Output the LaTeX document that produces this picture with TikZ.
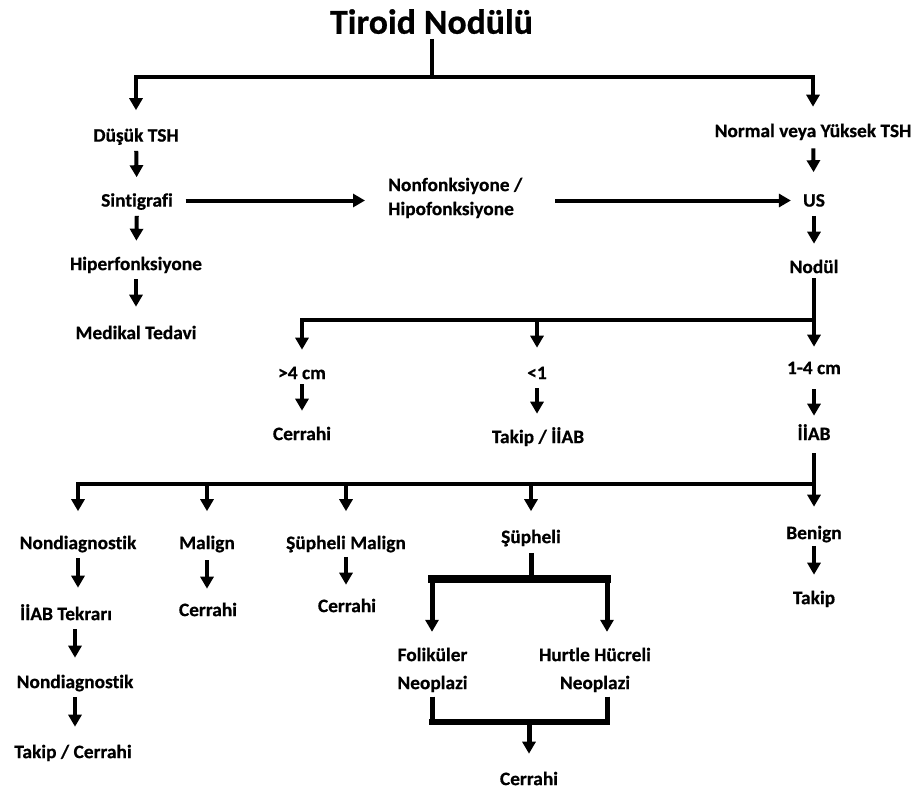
\documentclass[tikz,border=0pt]{standalone}
\usepackage{fontspec}
\setmainfont{Carlito}[Ligatures=NoCommon, FakeStretch=1.02, FakeBold=0.6]
\usetikzlibrary{arrows.meta}
\begin{document}
\begin{tikzpicture}[x=1pt,y=-1pt,
  lbl/.style={font=\bfseries\fontsize{19}{24}\selectfont, inner sep=0pt, text height=12.2pt, text depth=0pt},
  lbltwo/.style={font=\bfseries\fontsize{19}{24}\selectfont, inner sep=0pt},
  ttl/.style={font=\bfseries\fontsize{35}{40}\selectfont, inner sep=0pt, text height=22.5pt, text depth=0pt},
  ln/.style={line width=4pt},
  arr/.style={line width=4pt, -{Triangle[width=13pt,length=12pt]}},
  va/.style={arr, shorten <=9pt, shorten >=17pt},
  thickbar/.style={line width=7.5pt, line cap=rect},
  thinbar/.style={line width=6pt, line cap=rect}
]
\fill[white] (0,0) rectangle (918,793);
\useasboundingbox (0,0) rectangle (918,793);

% nodes
\node[ttl] (title) at (431.5,22.5) {Tiroid Nodülü};
\node[lbl] (dusuk) at (136,135.5) {Düşük TSH};
\node[lbl] (normal) at (813,131) {Normal veya Yüksek TSH};
\node[lbl] (sinti) at (137,200.5) {Sintigrafi};
\node[lbltwo, anchor=west] (nonf) at (388,198.3) {\begin{tabular}{@{}l@{}}Nonfonksiyone /\\Hipofonksiyone\end{tabular}};
\node[lbl] (us) at (814,200.5) {US};
\node[lbl] (hiper) at (136,264) {Hiperfonksiyone};
\node[lbl] (medikal) at (136,333) {Medikal Tedavi};
\node[lbl] (nodul) at (814,267) {Nodül};
\node[lbl] (gt4) at (302,373) {>4 cm};
\node[lbl] (lt1) at (537,373) {<1};
\node[lbl] (b14) at (814,368) {1-4 cm};
\node[lbl] (cer1) at (302,434) {Cerrahi};
\node[lbl] (takipiiab) at (538,437) {Takip / İİAB};
\node[lbl] (iiab) at (814,434) {İİAB};
\node[lbl] (nd1) at (78,543) {Nondiagnostik};
\node[lbl] (malign) at (207,543) {Malign};
\node[lbl] (supmal) at (346,543) {Şüpheli Malign};
\node[lbl] (sup) at (531,537) {Şüpheli};
\node[lbl] (benign) at (814,533) {Benign};
\node[lbl] (tekrar) at (66,614) {İİAB Tekrarı};
\node[lbl] (cer2) at (208,610) {Cerrahi};
\node[lbl] (cer3) at (347,606) {Cerrahi};
\node[lbl] (takip) at (814,598) {Takip};
\node[lbl] (nd2) at (75,682) {Nondiagnostik};
\node[lbl] (takcer) at (73,752) {Takip / Cerrahi};
\node[lbltwo] (fol) at (432.5,670.3) {\begin{tabular}{@{}c@{}}Foliküler\\[4pt]Neoplazi\end{tabular}};
\node[lbltwo] (hur) at (595,670.3) {\begin{tabular}{@{}c@{}}Hurtle Hücreli\\[4pt]Neoplazi\end{tabular}};
\node[lbl] (cer4) at (529,779) {Cerrahi};

% junction coordinates
\coordinate (top) at (431.5,77);
\coordinate (nbar) at (814,320);
\coordinate (ibar) at (814,484);
\coordinate (sL) at (432,579);
\coordinate (sR) at (607,579);
\coordinate (bL) at (432,722);
\coordinate (bR) at (607,722);
\coordinate (bM) at (529,722);

% top split
\draw[ln, shorten <=5pt] (title.south) -- (top);
\draw[arr, shorten >=19pt] (top) -| (dusuk.north);
\draw[arr, shorten >=18pt] (top) -| (normal.north);

% left column
\draw[va] (dusuk) -- (sinti);
\draw[va] (sinti) -- (hiper);
\draw[va, shorten >=20pt] (hiper) -- (medikal);

% horizontal
\draw[arr, shorten <=12.5pt, shorten >=23pt] (sinti.east) -- (sinti.east -| nonf.west);
\draw[arr, shorten <=33pt, shorten >=12pt] (nonf.east |- us) -- (us.west);

% right column
\draw[va, shorten <=11pt, shorten >=22pt] (normal) -- (us);
\draw[va] (us) -- (nodul);
\draw[ln, shorten <=5pt] (nodul.south) -- (nbar);
\draw[arr, shorten >=17pt] (nbar) -| (gt4.north);
\draw[arr, shorten >=19pt] (nbar) -| (lt1.north);
\draw[arr, shorten >=15pt] (nbar) -- (b14.north);

\draw[va, shorten <=5pt] (gt4) -- (cer1);
\draw[va] (lt1.south) -- (lt1.south |- takipiiab.north);
\draw[va, shorten <=15pt, shorten >=12pt] (b14) -- (iiab);

% IIAB split
\draw[ln, shorten <=13pt] (iiab.south) -- (ibar);
\draw[arr, shorten >=25.5pt] (ibar) -| (nd1.north);
\draw[arr, shorten >=25.5pt] (ibar) -| (malign.north);
\draw[arr, shorten >=25.5pt] (ibar) -| (supmal.north);
\draw[arr, shorten >=19.5pt] (ibar) -| (sup.north);
\draw[arr, shorten >=20pt] (ibar) -- (benign.north);

% lower columns
\draw[va, shorten >=20pt] (nd1.south) -- (nd1.south |- tekrar.north);
\draw[va, shorten >=18pt] (tekrar.south -| nd2) -- (nd2.north);
\draw[va, shorten >=19pt] (nd2.south) -- (nd2.south |- takcer.north);
\draw[va, shorten <=11pt, shorten >=15pt] (malign.south) -- (malign.south |- cer2.north);
\draw[va, shorten <=7.5pt, shorten >=15pt] (supmal.south) -- (supmal.south |- cer3.north);
\draw[va, shorten <=6.5pt, shorten >=17pt] (benign) -- (takip);

% Supheli structure
\draw[line width=5pt, shorten <=9.5pt] (sup.south) -- (sup.south |- sL);
\draw[thickbar] (sL) -- (sR);
\draw[arr, line width=5pt, shorten >=12.3pt] (sL) -- (sL |- fol.north);
\draw[arr, line width=5pt, shorten >=12.3pt] (sR) -- (sR |- hur.north);
\draw[line width=5pt] (fol.south) -- (fol.south |- bL);
\draw[line width=5pt] (bR |- hur.south) -- (bR);
\draw[thinbar] (bL) -- (bR);
\draw[arr, line width=5pt, shorten >=19pt] (bM) -- (cer4.north);
\end{tikzpicture}
\end{document}
